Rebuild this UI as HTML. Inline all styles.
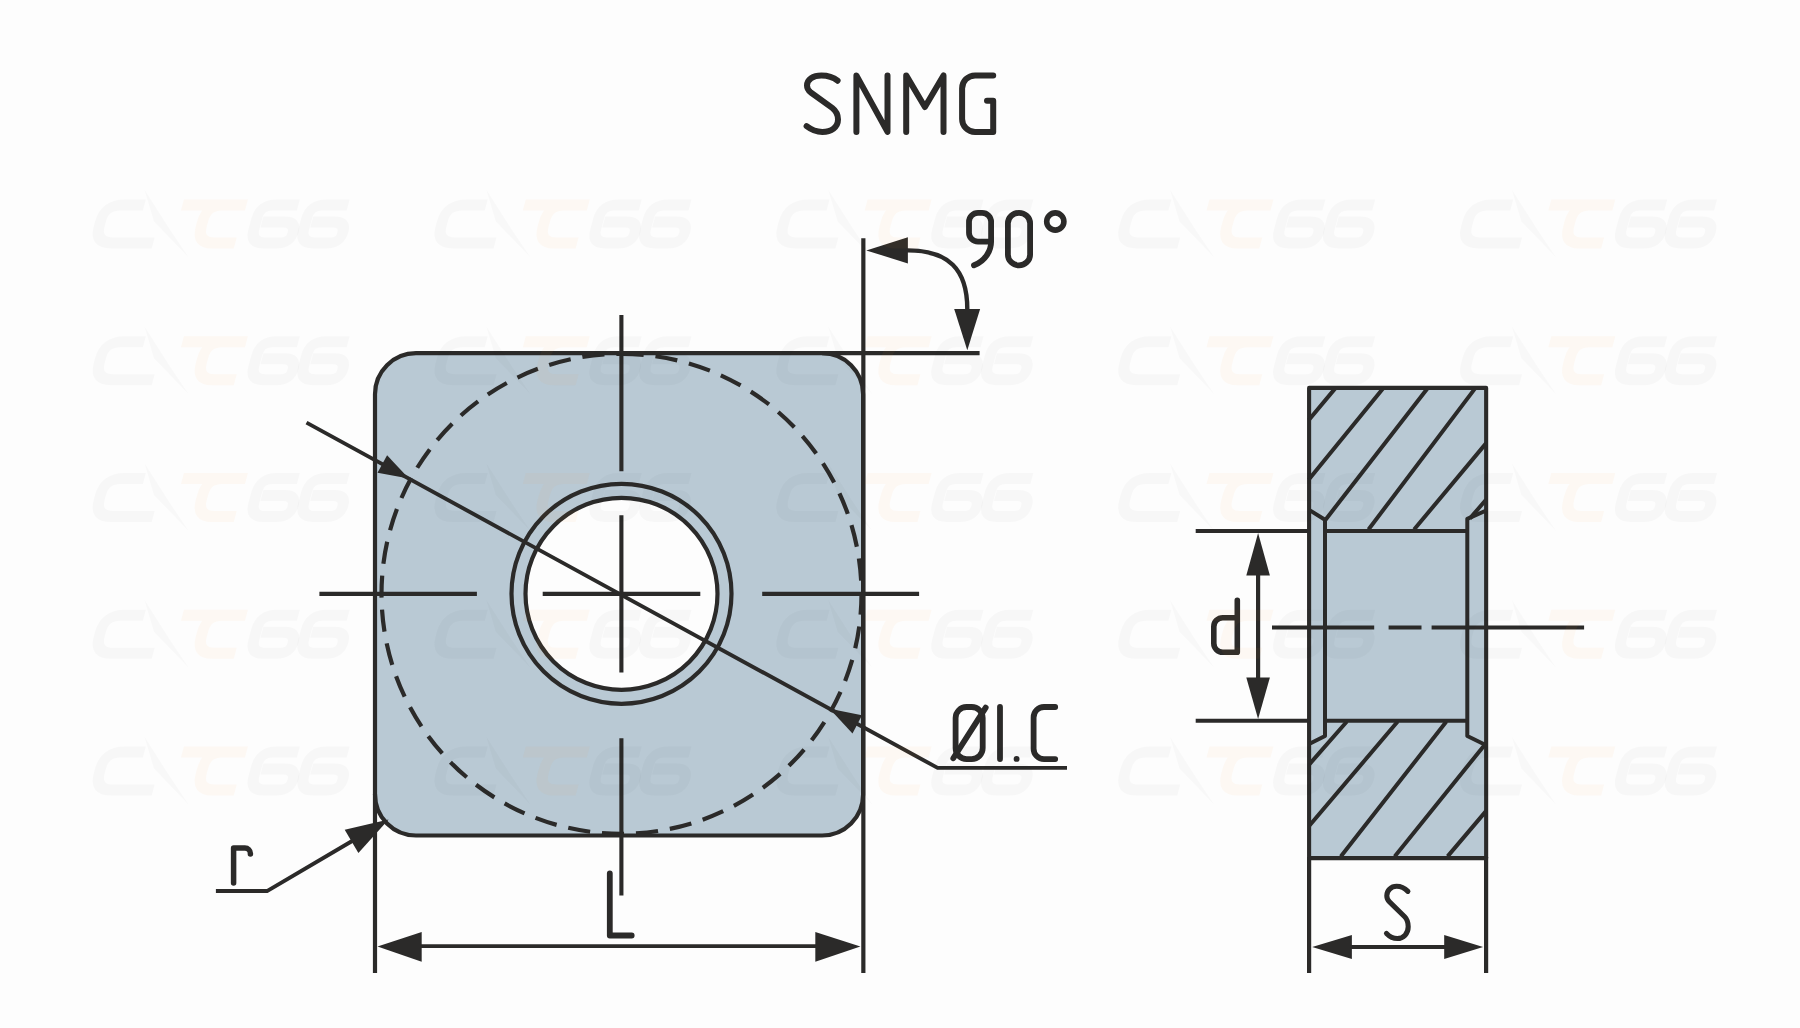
<!DOCTYPE html>
<html>
<head>
<meta charset="utf-8">
<title>SNMG</title>
<style>
html,body{margin:0;padding:0;background:#fdfdfd;}
body{width:1800px;height:1028px;overflow:hidden;font-family:"Liberation Sans",sans-serif;}
svg{display:block;}
.k{stroke:#2b2a29;fill:none;stroke-linecap:butt;stroke-linejoin:round;}
.t{stroke:#2b2a29;fill:none;stroke-linecap:round;stroke-linejoin:round;}
.a{fill:#2b2a29;stroke:none;}
</style>
</head>
<body>
<svg width="1800" height="1028" viewBox="0 0 1800 1028">
<rect x="0" y="0" width="1800" height="1028" fill="#fdfdfd"/>

<!-- ===== front view ===== -->
<g id="front">
<path d="M416,353.2 H822.1 A41,41 0 0 1 863.1,394.2 V794.5 A41,41 0 0 1 822.1,835.5 H416 A41,41 0 0 1 375,794.5 V394.2 A41,41 0 0 1 416,353.2 Z" fill="#b9c9d4" stroke="none"/>
<circle cx="621.5" cy="593.8" r="96" fill="#fdfdfd"/>
<!-- dashed inscribed circle -->
<path class="k" stroke-width="4.2" stroke-dasharray="22.2 11.94" d="M621.5,353.8 A240,240 0 1 1 621.5,833.8 A240,240 0 1 1 621.5,353.8"/>
<!-- outline -->
<path class="k" stroke-width="4.2" d="M416,353.2 H822.1 A41,41 0 0 1 863.1,394.2 V794.5 A41,41 0 0 1 822.1,835.5 H416 A41,41 0 0 1 375,794.5 V394.2 A41,41 0 0 1 416,353.2 Z"/>
<circle class="k" stroke-width="4.2" cx="621.5" cy="593.8" r="110"/>
<circle class="k" stroke-width="4.2" cx="621.5" cy="593.8" r="96"/>
<!-- centre lines -->
<path class="k" stroke-width="4.1" d="M621.4,315 V471.3 M621.4,515.3 V672.6 M621.4,738.2 V895.5"/>
<path class="k" stroke-width="4.1" d="M319.4,593.9 H476.9 M542.7,593.9 H700.3 M762.2,593.9 H919.1"/>
<!-- extension lines -->
<path class="k" stroke-width="4.2" d="M863.35,238.2 V973 M375,794 V973 M822,353.2 H979.6"/>
<!-- L dimension -->
<path class="k" stroke-width="3.8" d="M415,946.05 H820"/>
<polygon class="a" points="377.5,946.6 421.7,932 421.7,961.7"/>
<polygon class="a" points="860.4,946.6 815.3,932 815.3,961.7"/>
<!-- IC leader -->
<path class="k" stroke-width="3.9" d="M306.5,422.6 L937.6,767.9 H1067"/>
<polygon class="a" points="408.8,478.6 377.5,472.8 387.1,455.3"/>
<polygon class="a" points="829.6,708.7 852.5,733.4 862,715.2"/>
<!-- r leader -->
<path class="k" stroke-width="4" d="M215.9,891.1 H267 L353,840.5"/>
<polygon class="a" points="388.6,819.6 358.4,853.1 344.7,829.8"/>
<!-- 90deg -->
<path class="k" stroke-width="4.4" d="M905,250.4 H907.9 C948.3,250.4 967.3,269.2 967.3,309.1 V312"/>
<polygon class="a" points="866.3,250.4 907.9,237.3 907.9,263.4"/>
<polygon class="a" points="967.3,350.2 954.2,309.1 980.1,309.1"/>
</g>

<!-- ===== side view ===== -->
<g id="side">
<rect x="1309.1" y="387.9" width="177.05" height="470.2" fill="#b9c9d4"/>
<!-- hatch top -->
<path class="k" stroke-width="4" d="M1335,388.6 L1308.6,420.2 M1383,388.6 L1308.6,479.7 M1427.4,388.6 L1325,520.4 M1474.9,388.6 L1368.5,529.5 M1486,443.4 L1414.1,529.5 M1486,499.7 L1470,518.4"/>
<!-- hatch bottom -->
<path class="k" stroke-width="4" d="M1346.9,721.5 L1309.3,764.4 M1397.7,721.5 L1309.3,825.7 M1446.4,721.5 L1340.8,856.4 M1484.4,745.2 L1394.7,856.4 M1486.2,810.9 L1447.6,856.4"/>
<rect class="k" stroke-linejoin="miter" stroke-width="4.1" x="1309.1" y="387.9" width="177.05" height="470.2"/>
<path class="k" stroke-width="4" d="M1325,531 H1467.3 M1325,720.8 H1467.3"/>
<path class="k" stroke-width="4" d="M1309.1,509.9 L1325,519.8 V736 L1309.1,744 M1486.2,510.5 L1467.3,518.8 V736 L1486.2,745.2"/>
<!-- d ext -->
<path class="k" stroke-width="4.1" d="M1195.7,531 H1308 M1195.7,720.8 H1308"/>
<path class="k" stroke-width="4.2" d="M1258.1,570 V680"/>
<polygon class="a" points="1258.1,533 1246.3,575.5 1269.9,575.5"/>
<polygon class="a" points="1258.1,718.9 1246.3,677.6 1269.9,677.6"/>
<!-- centre line -->
<path class="k" stroke-width="4.1" d="M1272,627.5 H1374.2 M1388.6,627.5 H1421.5 M1431.6,627.5 H1584.1"/>
<!-- S ext -->
<path class="k" stroke-width="4.2" d="M1309.1,857 V973.1 M1486.1,857 V973.1"/>
<path class="k" stroke-width="4" d="M1348,946.9 H1448"/>
<polygon class="a" points="1312.2,946.9 1351.9,934.9 1351.9,959.1"/>
<polygon class="a" points="1483.1,946.9 1444.2,934.9 1444.2,959.1"/>
</g>

<!-- ===== text ===== -->
<g id="text">
<!-- SNMG -->
<path class="t" stroke-width="6" d="M837.6,80.7 C834.5,78.2 828,75.5 821.4,75.5 C813,75.5 807,79.5 807,85.6 C807,88.5 808,90.3 810.5,92.2 L832.2,107.9 C836,110.8 838,114.5 838,119.5 C838,127 831.5,131.9 822.3,131.9 C816,131.9 811,129.5 806.6,126.1"/>
<path class="t" stroke-width="6" d="M856.4,131.9 V75.4 L887.5,131.9 V75.4"/>
<path class="t" stroke-width="6" d="M906.2,131.9 V75.4 L924.9,107 L943.5,75.4 V131.9"/>
<path class="t" stroke-width="6" d="M993.2,75.4 H975.1 A13,13 0 0 0 962.1,88.4 V118.9 A13,13 0 0 0 975.1,131.9 H993.2 V100.7 H987"/>
<!-- 90deg -->
<path class="t" stroke-width="5.8" d="M991.1,241.7 H978 A9,9 0 0 1 969,232.7 V221.8 A9,9 0 0 1 978,212.8 H982.1 A9,9 0 0 1 991.1,221.8 V241.7 C991.1,250 986,260.5 974,265.3"/>
<rect class="t" stroke-width="5.8" x="1007.9" y="212.8" width="22.2" height="52.5" rx="11.1" ry="10.5"/>
<circle class="t" stroke-width="5.6" cx="1055.3" cy="221.5" r="8.6"/>
<!-- OI.C -->
<rect class="t" stroke-width="5.8" x="955.6" y="707" width="27.1" height="52.1" rx="11" ry="11"/>
<path class="t" stroke-width="5.8" d="M953.3,758.2 L985.7,707.6"/>
<path class="t" stroke-width="5.8" d="M1000,707 V759.1"/>
<circle class="a" cx="1016.6" cy="758.9" r="2.95"/>
<path class="t" stroke-width="5.8" d="M1055.2,707 H1044 A10.4,10.4 0 0 0 1033.6,717.4 V748.7 A10.4,10.4 0 0 0 1044,759.1 H1055.2"/>
<!-- L -->
<path class="t" stroke-width="5.8" d="M609.8,873.3 V935.5 H631.7"/>
<!-- r -->
<path class="t" stroke-width="5.5" d="M233.6,883 V848.1 H244.9 A5.5,5.5 0 0 1 250.4,853.6 V854"/>
<!-- d -->
<path class="t" stroke-width="5.6" d="M1237.3,600.3 V652.3 M1237.3,617.7 H1222.8 A9,9 0 0 0 1213.8,626.7 V643.3 A9,9 0 0 0 1222.8,652.3 H1237.3"/>
<!-- S -->
<path class="t" stroke-width="5.1" d="M1407.9,891.4 C1405,888.5 1401,886.3 1396.6,886.3 C1391,886.3 1386.8,890.5 1386.8,895.7 C1386.8,898.5 1387.8,900.2 1389.5,901.8 L1404.7,916.7 C1407,919 1408.2,922.5 1408.2,926.8 C1408.2,933.5 1403.5,938.5 1397.4,938.5 C1393,938.5 1389.5,936.5 1386.5,933.4"/>
</g>

<!-- ===== watermark (very faint) ===== -->
<defs>
<g id="wm">
 <g transform="skewX(-15)" fill="none" stroke-linejoin="round">
  <path stroke="#000" stroke-opacity="0.022" stroke-width="11" d="M52,5.5 H30 Q12.5,5.5 12.5,22 V27 Q12.5,43.5 30,43.5 H71"/>
  <path stroke="#ff9620" stroke-opacity="0.048" stroke-width="11" d="M154,5.5 H90 M131,5.5 Q114.6,5.5 114.6,22 V27 Q114.6,43.5 131,43.5 H153"/>
  <path stroke="#000" stroke-opacity="0.022" stroke-width="11" d="M206,5.5 H182 Q168,5.5 168,19 V30 Q168,43.5 182,43.5 H196 Q208,43.5 208,33 Q208,22.5 196,22.5 H174"/>
  <path stroke="#000" stroke-opacity="0.022" stroke-width="11" d="M255.8,5.5 H231.8 Q217.8,5.5 217.8,19 V30 Q217.8,43.5 231.8,43.5 H245.8 Q257.8,43.5 257.8,33 Q257.8,22.5 245.8,22.5 H223.8"/>
 </g>
 <polygon fill="#000" fill-opacity="0.018" points="50.5,-10 76,30 95,58.3 60,22"/>
</g>
</defs>
<g id="watermarks">
<use href="#wm" x="93.9" y="199.4"/>
<use href="#wm" x="435.75" y="199.4"/>
<use href="#wm" x="777.6" y="199.4"/>
<use href="#wm" x="1119.45" y="199.4"/>
<use href="#wm" x="1461.3" y="199.4"/>
<use href="#wm" x="93.9" y="336.2"/>
<use href="#wm" x="435.75" y="336.2"/>
<use href="#wm" x="777.6" y="336.2"/>
<use href="#wm" x="1119.45" y="336.2"/>
<use href="#wm" x="1461.3" y="336.2"/>
<use href="#wm" x="93.9" y="473"/>
<use href="#wm" x="435.75" y="473"/>
<use href="#wm" x="777.6" y="473"/>
<use href="#wm" x="1119.45" y="473"/>
<use href="#wm" x="1461.3" y="473"/>
<use href="#wm" x="93.9" y="609.8"/>
<use href="#wm" x="435.75" y="609.8"/>
<use href="#wm" x="777.6" y="609.8"/>
<use href="#wm" x="1119.45" y="609.8"/>
<use href="#wm" x="1461.3" y="609.8"/>
<use href="#wm" x="93.9" y="746.6"/>
<use href="#wm" x="435.75" y="746.6"/>
<use href="#wm" x="777.6" y="746.6"/>
<use href="#wm" x="1119.45" y="746.6"/>
<use href="#wm" x="1461.3" y="746.6"/>
</g>
</svg>
</body>
</html>
